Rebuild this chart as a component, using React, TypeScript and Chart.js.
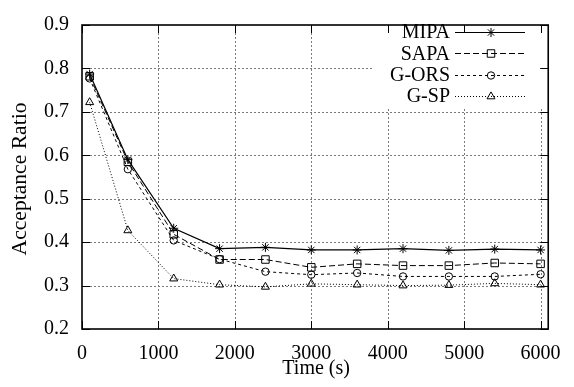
import React, { useEffect, useRef } from 'react';
import { Chart, registerables } from 'chart.js';

Chart.register(...registerables);

const times = [100, 600, 1200, 1800, 2400, 3000, 3600, 4200, 4800, 5400, 6000];
const mipa = [0.787, 0.59, 0.432, 0.385, 0.388, 0.382, 0.382, 0.385, 0.381, 0.384, 0.382];
const sapa = [0.782, 0.585, 0.418, 0.36, 0.36, 0.342, 0.35, 0.346, 0.346, 0.352, 0.35];
const gors = [0.777, 0.568, 0.404, 0.361, 0.332, 0.325, 0.329, 0.321, 0.321, 0.321, 0.326];
const gsp = [0.722, 0.427, 0.316, 0.302, 0.297, 0.304, 0.302, 0.3, 0.301, 0.305, 0.302];
const seriesNames = ['MIPA', 'SAPA', 'G-ORS', 'G-SP'];
const xTicks = [0, 1000, 2000, 3000, 4000, 5000, 6000];
const yTicks = [0.2, 0.3, 0.4, 0.5, 0.6, 0.7, 0.8, 0.9];
const xTitle = 'Time (s)';
const yTitle = 'Acceptance Ratio';

const FONT = "'Liberation Serif', 'DejaVu Serif', serif";

const styles = [
  { dash: [] as number[], point: 'star', radius: 4.5, width: 1.2 },
  { dash: [6, 3], point: 'rect', radius: 5.3, width: 1 },
  { dash: [3, 3], point: 'circle', radius: 3.7, width: 1 },
  { dash: [1, 2], point: 'triangle', radius: 4.6, width: 1 },
];

function drawMarker(ctx: CanvasRenderingContext2D, style: string, x: number, y: number, r: number) {
  ctx.beginPath();
  if (style === 'star') {
    ctx.moveTo(x, y - r); ctx.lineTo(x, y + r);
    ctx.moveTo(x - r, y); ctx.lineTo(x + r, y);
    const d = r * Math.SQRT1_2;
    ctx.moveTo(x - d, y - d); ctx.lineTo(x + d, y + d);
    ctx.moveTo(x - d, y + d); ctx.lineTo(x + d, y - d);
  } else if (style === 'rect') {
    const s = r * Math.SQRT1_2;
    ctx.rect(x - s, y - s, 2 * s, 2 * s);
  } else if (style === 'circle') {
    ctx.arc(x, y, r, 0, Math.PI * 2);
  } else if (style === 'triangle') {
    ctx.moveTo(x, y - r);
    ctx.lineTo(x + 0.866 * r, y + 0.5 * r);
    ctx.lineTo(x - 0.866 * r, y + 0.5 * r);
    ctx.closePath();
  }
  ctx.stroke();
}

const LEGEND = { maskLeft: 372, maskBottom: 107, textRight: 450, lineStart: 455, lineEnd: 525, markerX: 491, firstRow: 32, rowGap: 21.3 };

const framePlugin = {
  id: 'frame',
  beforeDatasetsDraw(chart: any) {
    const { ctx, chartArea, scales } = chart;
    const { left, right, top, bottom } = chartArea;
    const xs = scales.x, ys = scales.y;
    ctx.save();
    ctx.strokeStyle = '#7a7a7a';
    ctx.lineWidth = 1;
    ctx.setLineDash([2, 2]);
    for (const v of xTicks) {
      if (v === 0) continue;
      const px = Math.round(xs.getPixelForValue(v)) + 0.5;
      ctx.beginPath(); ctx.moveTo(px, top); ctx.lineTo(px, bottom); ctx.stroke();
    }
    for (const v of yTicks) {
      if (v <= 0.2 || v >= 0.9) continue;
      const py = Math.round(ys.getPixelForValue(v)) + 0.5;
      ctx.beginPath(); ctx.moveTo(left, py); ctx.lineTo(right, py); ctx.stroke();
    }
    ctx.setLineDash([]);
    ctx.fillStyle = '#ffffff';
    ctx.fillRect(LEGEND.maskLeft, top, right - LEGEND.maskLeft, LEGEND.maskBottom - top);
    ctx.strokeStyle = '#000';
    ctx.lineWidth = 1;
    const tl = 8;
    for (const v of xTicks) {
      const px = Math.round(xs.getPixelForValue(v)) + 0.5;
      ctx.beginPath();
      ctx.moveTo(px, bottom); ctx.lineTo(px, bottom - tl);
      ctx.moveTo(px, top); ctx.lineTo(px, top + tl);
      ctx.stroke();
    }
    for (const v of yTicks) {
      const py = Math.round(ys.getPixelForValue(v)) + 0.5;
      ctx.beginPath();
      ctx.moveTo(left, py); ctx.lineTo(left + tl, py);
      ctx.moveTo(right, py); ctx.lineTo(right - tl, py);
      ctx.stroke();
    }
    ctx.lineWidth = 1.6;
    ctx.strokeRect(left, top, right - left, bottom - top);
    ctx.fillStyle = '#000';
    ctx.font = `20px ${FONT}`;
    ctx.textAlign = 'center';
    ctx.textBaseline = 'middle';
    ctx.fillText(xTitle, (left + right) / 2 + 1, 369);
    ctx.save();
    ctx.translate(21, (top + bottom) / 2 + 2);
    ctx.rotate(-Math.PI / 2);
    ctx.scale(1.08, 1);
    ctx.fillText(yTitle, 0, 0);
    ctx.restore();
    ctx.restore();
  },
  afterDatasetsDraw(chart: any) {
    const { ctx } = chart;
    ctx.save();
    ctx.font = `20px ${FONT}`;
    ctx.fillStyle = '#000';
    ctx.strokeStyle = '#000';
    ctx.textAlign = 'right';
    ctx.textBaseline = 'middle';
    seriesNames.forEach((name, i) => {
      const st = styles[i];
      const y = LEGEND.firstRow + i * LEGEND.rowGap;
      ctx.fillText(name, LEGEND.textRight, y + 1);
      const yl = Math.round(y) + 0.5;
      ctx.lineWidth = st.width;
      ctx.setLineDash(st.dash);
      ctx.beginPath(); ctx.moveTo(LEGEND.lineStart, yl); ctx.lineTo(LEGEND.lineEnd, yl); ctx.stroke();
      ctx.setLineDash([]);
      ctx.lineWidth = 1;
      drawMarker(ctx, st.point, LEGEND.markerX, yl, st.radius);
    });
    ctx.restore();
  },
};

export default function App() {
  const ref = useRef<HTMLCanvasElement>(null);
  useEffect(() => {
    const canvas = ref.current;
    if (!canvas) return;
    const series = [mipa, sapa, gors, gsp];
    const chart = new Chart(canvas, {
      type: 'line',
      data: {
        datasets: series.map((vals, i) => ({
          label: seriesNames[i],
          data: times.map((t, j) => ({ x: t, y: vals[j] })),
          borderColor: '#000',
          borderWidth: styles[i].width,
          borderDash: styles[i].dash,
          backgroundColor: 'rgba(0,0,0,0)',
          pointStyle: styles[i].point as any,
          pointRadius: styles[i].radius,
          pointBorderWidth: 1,
          pointBorderColor: '#000',
          pointBackgroundColor: 'rgba(0,0,0,0)',
          tension: 0,
          fill: false,
        })),
      },
      options: {
        responsive: false,
        animation: false,
        devicePixelRatio: 1,
        layout: { padding: { left: 0, top: 13, right: 25, bottom: 0 } },
        plugins: { legend: { display: false }, tooltip: { enabled: false } },
        scales: {
          x: {
            type: 'linear',
            min: 0,
            max: 6100,
            afterBuildTicks: (s: any) => { s.ticks = xTicks.map((v) => ({ value: v })); },
            afterFit: (s: any) => { s.height = 58; },
            grid: { display: false, drawTicks: false },
            border: { display: false },
            ticks: {
              autoSkip: false,
              maxRotation: 0,
              padding: 13,
              color: '#000',
              font: { size: 20, family: FONT },
              callback: (v: any) => String(v),
            },
          },
          y: {
            type: 'linear',
            min: 0.2,
            max: 0.9,
            afterBuildTicks: (s: any) => { s.ticks = yTicks.map((v) => ({ value: v })); },
            afterFit: (s: any) => { s.width = 82; },
            grid: { display: false, drawTicks: false },
            border: { display: false },
            ticks: {
              padding: 13,
              color: '#000',
              font: { size: 20, family: FONT },
              callback: (v: any) => Number(v).toFixed(1),
            },
          },
        },
      },
      plugins: [framePlugin],
    });
    return () => chart.destroy();
  }, []);
  return (
    <div style={{ position: 'fixed', left: 0, top: 0, width: 574, height: 387, background: '#fff' }}>
      <canvas ref={ref} width={574} height={387} style={{ display: 'block', width: 574, height: 387 }} />
    </div>
  );
}
